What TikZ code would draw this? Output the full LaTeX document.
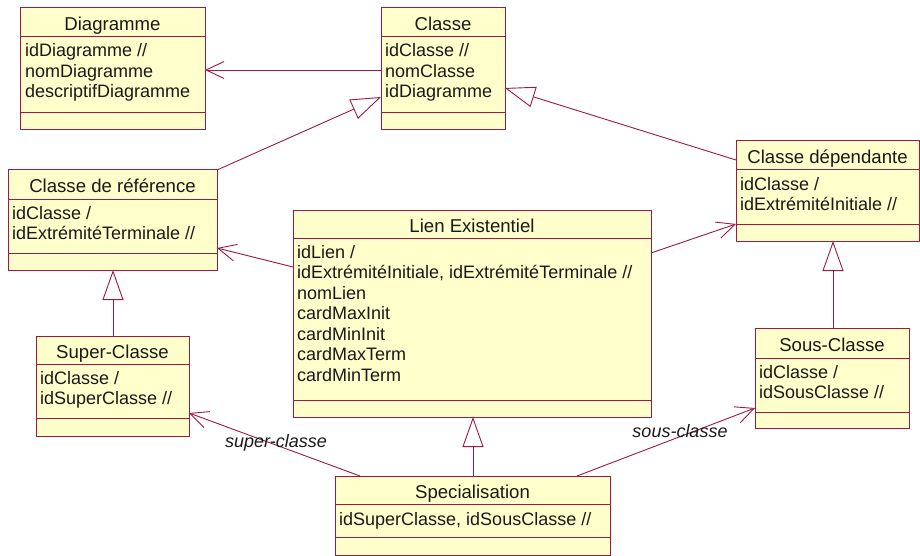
\documentclass[tikz,border=0pt]{standalone}
\usepackage{fontspec}
\setmainfont{Liberation Sans}
\usetikzlibrary{arrows.meta,calc}
\definecolor{umlline}{RGB}{158,24,72}
\definecolor{umlfill}{RGB}{255,255,204}
\definecolor{umltext}{RGB}{25,25,25}
\newcommand{\umlfont}{\fontsize{18}{20.5}\selectfont}
\newcommand{\umltitlefont}{\fontsize{18.6}{21}\selectfont}
\begin{document}
\begin{tikzpicture}[x=1pt,y=-1pt,
  umlbox/.style={draw=umlline, fill=umlfill, line width=1pt, anchor=north west,
                 inner sep=0pt, outer sep=0pt},
  sepline/.style={draw=umlline, line width=1pt},
  umltitle/.style={anchor=base, inner sep=0pt, font=\umltitlefont, text=umltext},
  umlattr/.style={anchor=base west, inner sep=0pt, font=\umlfont, text=umltext},
  rolelabel/.style={inner sep=0pt, font=\umlfont\itshape, text=umltext},
  assoc/.style={draw=umlline, line width=0.9pt, -{Straight Barb[length=18pt,width=17pt,line width=0.9pt]}},
  gener/.style={draw=umlline, line width=0.9pt, -{Triangle[open,length=30pt,width=21pt,line width=0.9pt,fill=white]}}
]
\useasboundingbox (0,0) rectangle (920,556);

% ---------- boxes ----------
\node[umlbox, minimum width=185pt, minimum height=122pt] (dia)  at (20,8)   {};
\node[umlbox, minimum width=124pt, minimum height=122pt] (cls)  at (381,8)  {};
\node[umlbox, minimum width=209pt, minimum height=100pt] (ref)  at (8,170)  {};
\node[umlbox, minimum width=183pt, minimum height=100pt] (dep)  at (736,141) {};
\node[umlbox, minimum width=358pt, minimum height=207pt] (lien) at (293,210) {};
\node[umlbox, minimum width=153pt, minimum height=100pt] (sup)  at (36,336) {};
\node[umlbox, minimum width=154pt, minimum height=100pt] (sous) at (755,328) {};
\node[umlbox, minimum width=275pt, minimum height=79pt]  (spe)  at (335,476) {};

% ---------- compartment separators ----------
\foreach \b/\s/\a in {dia/29/105, cls/29/105, ref/29/83, dep/29/83, lien/28/190, sup/28/82, sous/30/84, spe/28/61}{
  \draw[sepline] ($(\b.north west)+(0,\s)$) -- ($(\b.north east)+(0,\s)$);
  \draw[sepline] ($(\b.north west)+(0,\a)$) -- ($(\b.north east)+(0,\a)$);
}

% ---------- titles ----------
\node[umltitle] (dia-t)  at ($(dia.north)+(0,23)$)  {Diagramme};
\node[umltitle] (cls-t)  at ($(cls.north)+(0,23)$)  {Classe};
\node[umltitle] (ref-t)  at ($(ref.north)+(0,23)$)  {Classe de référence};
\node[umltitle] (dep-t)  at ($(dep.north)+(0,23)$)  {Classe dépendante};
\node[umltitle] (lien-t) at ($(lien.north)+(0,22)$) {Lien Existentiel};
\node[umltitle] (sup-t)  at ($(sup.north)+(0,22)$)  {Super-Classe};
\node[umltitle] (sous-t) at ($(sous.north)+(0,23)$) {Sous-Classe};
\node[umltitle] (spe-t)  at ($(spe.north)+(0,22)$)  {Specialisation};

% ---------- attributes ----------
\foreach \t [count=\i] in {idDiagramme //, nomDiagramme, descriptifDiagramme}
  \node[umlattr] (dia-a\i) at ($(dia.north west)+(5,{49+20.5*(\i-1)})$) {\t};
\foreach \t [count=\i] in {idClasse //, nomClasse, idDiagramme}
  \node[umlattr] (cls-a\i) at ($(cls.north west)+(4,{49+20.5*(\i-1)})$) {\t};
\foreach \t [count=\i] in {idClasse /, idExtrémitéTerminale //}
  \node[umlattr] (ref-a\i) at ($(ref.north west)+(4,{49+20.5*(\i-1)})$) {\t};
\foreach \t [count=\i] in {idClasse /, idExtrémitéInitiale //}
  \node[umlattr] (dep-a\i) at ($(dep.north west)+(4,{49+20.5*(\i-1)})$) {\t};
\foreach \t [count=\i] in {idLien /, {idExtrémitéInitiale, idExtrémitéTerminale //}, nomLien, cardMaxInit, cardMinInit, cardMaxTerm, cardMinTerm}
  \node[umlattr] (lien-a\i) at ($(lien.north west)+(4,{48+20.5*(\i-1)})$) {\t};
\foreach \t [count=\i] in {idClasse /, idSuperClasse //}
  \node[umlattr] (sup-a\i) at ($(sup.north west)+(4,{48+20.5*(\i-1)})$) {\t};
\foreach \t [count=\i] in {idClasse /, idSousClasse //}
  \node[umlattr] (sous-a\i) at ($(sous.north west)+(4,{50+20.5*(\i-1)})$) {\t};
\node[umlattr] (spe-a1) at ($(spe.north west)+(4,49)$) {idSuperClasse, idSousClasse //};

% ---------- connectors ----------
\draw[assoc] ($(cls.north west)+(0,62)$) -- ($(dia.north east)+(0,62)$);
\draw[gener] (ref.north east) -- ($(cls.north west)+(0,89)$);
\draw[gener] ($(dep.north west)+(0,19)$) -- ($(cls.north east)+(0,80)$);
\draw[assoc] ($(lien.north west)+(0,57)$) -- ($(ref.north east)+(0,78)$);
\draw[assoc] ($(lien.north east)+(0,43)$) -- ($(dep.north west)+(0,83)$);
\draw[gener] ($(sup.north west)+(77,0)$) -- ($(ref.south west)+(105,0)$);
\draw[gener] ($(sous.north west)+(78,0)$) -- ($(dep.south west)+(97,0)$);
\draw[gener] ($(spe.north west)+(138,0)$) -- ($(lien.south west)+(180,0)$);
\draw[assoc] ($(spe.north west)+(25,0)$) -- ($(sup.north east)+(0,77)$);
\draw[assoc] ($(spe.north east)+(-33,0)$) -- ($(sous.north west)+(0,80)$);

% ---------- role labels ----------
\node[rolelabel] (lbl-sup)  at (276,443) {super-classe};
\node[rolelabel] (lbl-sous) at (680,431) {sous-classe};
\end{tikzpicture}
\end{document}
